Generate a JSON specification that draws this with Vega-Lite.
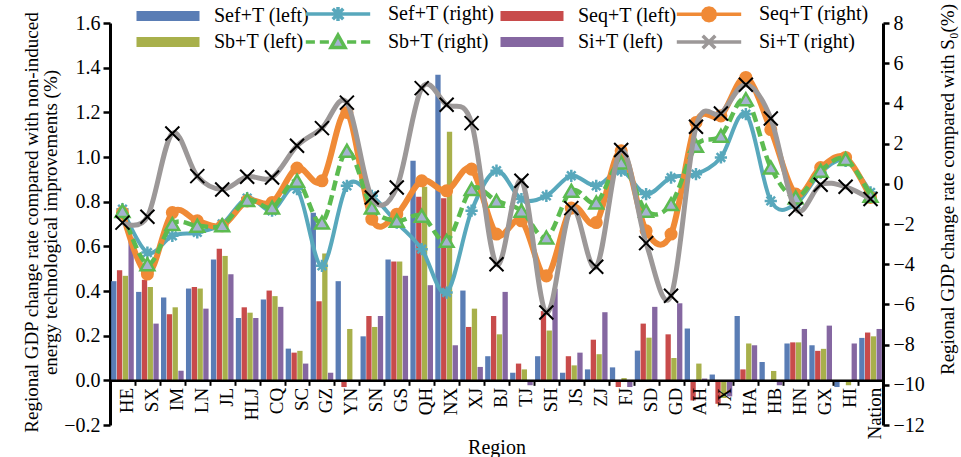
{
  "$schema": "https://vega.github.io/schema/vega-lite/v6.json",
  "width": 773,
  "height": 402,
  "autosize": {"type": "none"},
  "padding": {"left": 110, "top": 23, "right": 78, "bottom": 32},
  "background": "white",
  "config": {
    "font": "Liberation Serif",
    "view": {"stroke": null},
    "axis": {"labelFont": "Liberation Serif", "titleFont": "Liberation Serif", "labelColor": "black", "titleColor": "black", "domainColor": "black", "tickColor": "black", "grid": false, "titleFontWeight": "normal"},
    "legend": {"labelFont": "Liberation Serif", "labelColor": "black"}
  },
  "datasets": {
    "bars": [
      {"r":"HE","ef":0.444,"eq":0.493,"b":0.468,"i":0.64},
      {"r":"SX","ef":0.396,"eq":0.45,"b":0.418,"i":0.254},
      {"r":"IM","ef":0.371,"eq":0.296,"b":0.327,"i":0.043},
      {"r":"LN","ef":0.411,"eq":0.418,"b":0.411,"i":0.321},
      {"r":"JL","ef":0.541,"eq":0.589,"b":0.557,"i":0.475},
      {"r":"HLJ","ef":0.279,"eq":0.327,"b":0.303,"i":0.279},
      {"r":"CQ","ef":0.362,"eq":0.402,"b":0.377,"i":0.329},
      {"r":"SC","ef":0.142,"eq":0.124,"b":0.132,"i":0.075},
      {"r":"GZ","ef":0.75,"eq":0.354,"b":0.568,"i":0.034},
      {"r":"YN","ef":0.444,"eq":-0.03,"b":0.23,"i":0},
      {"r":"SN","ef":0.197,"eq":0.288,"b":0.239,"i":0.288},
      {"r":"GS","ef":0.541,"eq":0.532,"b":0.532,"i":0.468},
      {"r":"QH","ef":0.983,"eq":0.822,"b":0.867,"i":0.426},
      {"r":"NX","ef":1.368,"eq":0.815,"b":1.113,"i":0.157},
      {"r":"XJ","ef":0.402,"eq":0.239,"b":0.321,"i":0.06},
      {"r":"BJ","ef":0.108,"eq":0.288,"b":0.206,"i":0.396},
      {"r":"TJ","ef":0.034,"eq":0.075,"b":0.049,"i":-0.022},
      {"r":"SH","ef":0.108,"eq":0.31,"b":0.223,"i":0.41},
      {"r":"JS","ef":0.034,"eq":0.108,"b":0.067,"i":0.124},
      {"r":"ZJ","ef":0.049,"eq":0.182,"b":0.117,"i":0.305},
      {"r":"FJ","ef":0.058,"eq":-0.03,"b":0.01,"i":-0.03},
      {"r":"SD","ef":0.133,"eq":0.254,"b":0.191,"i":0.329},
      {"r":"GD","ef":0,"eq":0.206,"b":0.1,"i":0.345},
      {"r":"AH","ef":0.232,"eq":-0.09,"b":0.075,"i":0.008},
      {"r":"JX","ef":0.026,"eq":-0.105,"b":-0.079,"i":-0.072},
      {"r":"HA","ef":0.288,"eq":0.049,"b":0.165,"i":0.157},
      {"r":"HB","ef":0.082,"eq":0,"b":0.042,"i":-0.022},
      {"r":"HN","ef":0.165,"eq":0.17,"b":0.17,"i":0.23},
      {"r":"GX","ef":0.157,"eq":0.132,"b":0.141,"i":0.245},
      {"r":"HI","ef":-0.03,"eq":0,"b":-0.022,"i":0.165},
      {"r":"Nation","ef":0.19,"eq":0.214,"b":0.197,"i":0.23}
    ],
    "lines": [
      {"r":"HE","efr":-1.26,"eqr":-1.43,"br":-1.35,"ir":-1.93},
      {"r":"SX","efr":-3.42,"eqr":-4.49,"br":-4.0,"ir":-1.64},
      {"r":"IM","efr":-2.59,"eqr":-1.43,"br":-2.0,"ir":2.5},
      {"r":"LN","efr":-2.42,"eqr":-1.84,"br":-2.09,"ir":0.38},
      {"r":"JL","efr":-2.0,"eqr":-2.09,"br":-2.06,"ir":-0.28},
      {"r":"HLJ","efr":-0.71,"eqr":-0.85,"br":-0.81,"ir":0.35},
      {"r":"CQ","efr":-1.34,"eqr":-0.93,"br":-1.18,"ir":0.31},
      {"r":"SC","efr":-0.26,"eqr":0.78,"br":0.15,"ir":1.89},
      {"r":"GZ","efr":-4.08,"eqr":0.15,"br":-1.93,"ir":2.77},
      {"r":"YN","efr":-0.1,"eqr":3.55,"br":1.64,"ir":4.04},
      {"r":"SN","efr":-0.6,"eqr":-1.76,"br":-1.18,"ir":-0.68},
      {"r":"GS","efr":-1.93,"eqr":-1.51,"br":-1.84,"ir":-0.18},
      {"r":"QH","efr":-3.25,"eqr":0.15,"br":-1.59,"ir":4.76},
      {"r":"NX","efr":-5.41,"eqr":-0.35,"br":-2.84,"ir":3.93},
      {"r":"XJ","efr":-1.34,"eqr":0.73,"br":-0.26,"ir":3.02},
      {"r":"BJ","efr":0.65,"eqr":-2.5,"br":-0.85,"ir":-4.0},
      {"r":"TJ","efr":-0.76,"eqr":-1.84,"br":-1.34,"ir":0.15},
      {"r":"SH","efr":-0.6,"eqr":-4.58,"br":-2.67,"ir":-6.4},
      {"r":"JS","efr":0.4,"eqr":-1.21,"br":-0.35,"ir":-1.21},
      {"r":"ZJ","efr":-0.1,"eqr":-1.93,"br":-0.93,"ir":-4.13},
      {"r":"FJ","efr":0.65,"eqr":1.64,"br":1.06,"ir":1.68},
      {"r":"SD","efr":-0.51,"eqr":-2.34,"br":-1.34,"ir":-2.95},
      {"r":"GD","efr":0.31,"eqr":-2.5,"br":-1.01,"ir":-5.57},
      {"r":"AH","efr":0.48,"eqr":3.05,"br":1.89,"ir":2.84},
      {"r":"JX","efr":1.31,"eqr":3.38,"br":2.39,"ir":3.5},
      {"r":"HA","efr":3.47,"eqr":5.29,"br":4.21,"ir":4.93},
      {"r":"HB","efr":-0.85,"eqr":2.7,"br":0.81,"ir":3.25},
      {"r":"HN","efr":-1.01,"eqr":-0.51,"br":-0.68,"ir":-1.26},
      {"r":"GX","efr":0.56,"eqr":0.81,"br":0.65,"ir":-0.05},
      {"r":"HI","efr":1.14,"eqr":1.31,"br":1.23,"ir":-0.15},
      {"r":"Nation","efr":-0.43,"eqr":-0.68,"br":-0.6,"ir":-0.76}
    ]
  },
  "encoding": {
    "x": {
      "field": "r", "type": "nominal",
      "scale": {"domain": ["HE","SX","IM","LN","JL","HLJ","CQ","SC","GZ","YN","SN","GS","QH","NX","XJ","BJ","TJ","SH","JS","ZJ","FJ","SD","GD","AH","JX","HA","HB","HN","GX","HI","Nation"], "paddingInner": 0, "paddingOuter": 0},
      "axis": {"title": "Region", "titleFontSize": 20, "titleY": 57, "labelAngle": -90, "labelFontSize": 19, "labelPadding": 2, "labelOffset": 4, "offset": -44.67, "tickBand": "extent", "tickSize": 5, "tickWidth": 2, "domainWidth": 2.5, "zindex": 1}
    }
  },
  "layer": [
    {
      "data": {"name": "bars"},
      "transform": [{"fold": ["ef","eq","b","i"], "as": ["s","v"]}],
      "mark": {"type": "bar"},
      "encoding": {
        "xOffset": {"field": "s", "type": "nominal", "scale": {"domain": ["ef","eq","b","i"], "paddingInner": 0.08, "paddingOuter": 0.2}},
        "y": {
          "field": "v", "type": "quantitative",
          "scale": {"domain": [-0.2, 1.6], "nice": false},
          "axis": {"orient": "left", "values": [-0.2,0,0.2,0.4,0.6,0.8,1,1.2,1.4,1.6], "format": ".1f", "title": ["Regional GDP change rate compared with non-induced", "energy technological improvements (%)"], "titleFontSize": 19, "titleLineHeight": 19, "titleAngle": -90, "titleX": -79, "titleY": 199, "titleAlign": "center", "titleBaseline": "middle", "labelFontSize": 20, "labelPadding": 3, "tickSize": 7, "tickWidth": 2.5, "domainWidth": 3}
        },
        "color": {
          "field": "s", "type": "nominal",
          "scale": {"domain": ["ef","b","eq","i"], "range": ["#5A7DB5","#A8B04B","#C84B4B","#8567A1"]},
          "legend": {"orient": "none", "legendX": 48, "legendY": -17, "columns": 2, "title": null, "symbolType": "M-6.3,-1H6.3V1H-6.3Z", "symbolSize": 100, "symbolStrokeWidth": 0, "labelFontSize": 20, "labelOffset": 36, "columnPadding": 190, "rowPadding": 6, "labelLimit": 0, "labelExpr": "{'ef':'Sef+T (left)','eq':'Seq+T (left)','b':'Sb+T (left)','i':'Si+T (left)'}[datum.label]"}
        }
      }
    },
    {
      "data": {"name": "lines"},
      "transform": [{"fold": ["efr","eqr","br","ir"], "as": ["s","v"]}],
      "encoding": {
        "y": {
          "field": "v", "type": "quantitative",
          "scale": {"domain": [-12, 8], "nice": false},
          "axis": {"orient": "right", "values": [-12,-10,-8,-6,-4,-2,0,2,4,6,8], "title": "Regional GDP change rate compared with S₀(%)", "titleFontSize": 19, "titleAngle": -90, "titleX": 64, "titleY": 166, "titleAlign": "center", "titleBaseline": "middle", "labelFontSize": 20, "labelPadding": 4, "tickSize": 6, "tickWidth": 2.5, "domainWidth": 3}
        }
      },
      "layer": [
        {"transform": [{"filter": "datum.s === 'efr'"}], "mark": {"type": "line", "interpolate": "cardinal", "color": "#58A8BC", "strokeWidth": 4}, "encoding": {}},
        {"transform": [{"filter": "datum.s === 'efr'"}], "mark": {"type": "point", "shape": "M-1,0H1M0,-1V1M-0.7,-0.7L0.7,0.7M-0.7,0.7L0.7,-0.7", "filled": false, "stroke": "#58A8BC", "strokeWidth": 2.5, "size": 150, "opacity": 1}, "encoding": {}},
        {"transform": [{"filter": "datum.s === 'eqr'"}], "mark": {"type": "line", "interpolate": "cardinal", "color": "#F08A36", "strokeWidth": 6}, "encoding": {}},
        {"transform": [{"filter": "datum.s === 'eqr'"}], "mark": {"type": "circle", "color": "#F08A36", "size": 170, "opacity": 1}, "encoding": {}},
        {"transform": [{"filter": "datum.s === 'br'"}], "mark": {"type": "line", "interpolate": "cardinal", "color": "#5CBB50", "strokeWidth": 4.5, "strokeDash": [10, 5]}, "encoding": {}},
        {"transform": [{"filter": "datum.s === 'br'"}], "mark": {"type": "point", "shape": "triangle-up", "filled": true, "fill": "#A5B2D0", "stroke": "#5CBB50", "strokeWidth": 2.5, "size": 190, "opacity": 1}, "encoding": {}},
        {"transform": [{"filter": "datum.s === 'ir'"}], "mark": {"type": "line", "interpolate": "cardinal", "color": "#9C9898", "strokeWidth": 5}, "encoding": {}},
        {"transform": [{"filter": "datum.s === 'ir'"}], "mark": {"type": "point", "shape": "M-1,-1L1,1M-1,1L1,-1", "filled": false, "stroke": "black", "strokeWidth": 2, "size": 196, "opacity": 1}, "encoding": {}},
        {
          "transform": [{"filter": "false"}],
          "mark": {"type": "point", "filled": true, "opacity": 1},
          "encoding": {
            "fill": {"field": "s", "type": "nominal", "scale": {"domain": ["efr","br","eqr","ir"], "range": ["#58A8BC","#A5B2D0","#F08A36","#9C9898"]},
              "legend": {"orient": "none", "legendX": 218, "legendY": -19, "columns": 2, "title": null, "symbolSize": 196, "symbolStrokeWidth": 3.5, "labelFontSize": 20, "labelOffset": 40, "columnPadding": 174, "rowPadding": 0, "labelLimit": 0, "labelExpr": "{'efr':'Sef+T (right)','eqr':'Seq+T (right)','br':'Sb+T (right)','ir':'Si+T (right)'}[datum.label]"}},
            "stroke": {"field": "s", "type": "nominal", "scale": {"domain": ["efr","br","eqr","ir"], "range": ["#58A8BC","#5CBB50","#F08A36","#9C9898"]},
              "legend": {"orient": "none", "legendX": 218, "legendY": -19, "columns": 2, "title": null, "symbolSize": 196, "symbolStrokeWidth": 3.5, "labelFontSize": 20, "labelOffset": 40, "columnPadding": 174, "rowPadding": 0, "labelLimit": 0, "labelExpr": "{'efr':'Sef+T (right)','eqr':'Seq+T (right)','br':'Sb+T (right)','ir':'Si+T (right)'}[datum.label]"}},
            "shape": {"field": "s", "type": "nominal", "scale": {"domain": ["efr","br","eqr","ir"], "range": [
                "M-4.6,0H4.6M0,-1V1M-0.75,-0.75L0.75,0.75M-0.75,0.75L0.75,-0.75",
                "M-4.6,0H-3.3M-2.6,0H-1.3M1.3,0H2.6M3.3,0H4.6M0,-1L1,0.8L-1,0.8Z",
                "M-4.6,0H4.6M0.9,0L0.78,0.45L0.45,0.78L0,0.9L-0.45,0.78L-0.78,0.45L-0.9,0L-0.78,-0.45L-0.45,-0.78L0,-0.9L0.45,-0.78L0.78,-0.45Z",
                "M-4.6,0H4.6M-0.9,-0.9L0.9,0.9M-0.9,0.9L0.9,-0.9"]},
              "legend": {"orient": "none", "legendX": 218, "legendY": -19, "columns": 2, "title": null, "symbolSize": 196, "symbolStrokeWidth": 3.5, "labelFontSize": 20, "labelOffset": 40, "columnPadding": 174, "rowPadding": 0, "labelLimit": 0, "labelExpr": "{'efr':'Sef+T (right)','eqr':'Seq+T (right)','br':'Sb+T (right)','ir':'Si+T (right)'}[datum.label]"}}
          }
        }
      ]
    }
  ],
  "resolve": {"scale": {"y": "independent"}}
}
